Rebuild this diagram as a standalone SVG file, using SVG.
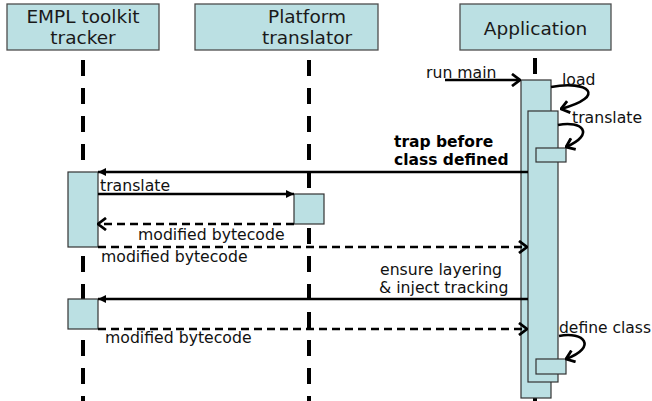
<svg xmlns="http://www.w3.org/2000/svg" width="652" height="401" viewBox="0 0 652 401">
  <style>
    .head { fill: #BBE0E3; stroke: #4d4d4d; stroke-width: 1.3; }
    .act { fill: #BBE0E3; stroke: #333; stroke-width: 1.2; }
    .life { stroke: #000; stroke-width: 4; stroke-dasharray: 16 12; fill: none; }
    .msg { stroke: #000; stroke-width: 2.6; fill: none; }
    .ret { stroke: #000; stroke-width: 2.6; fill: none; stroke-dasharray: 8 5; }
    .htxt { font-family: "DejaVu Sans", Verdana, sans-serif; font-size: 18.5px; fill: #1a1a1a; text-anchor: middle; }
    .lbl { font-family: "DejaVu Sans", Verdana, sans-serif; font-size: 15.7px; fill: #111; }
    .bold { font-family: "DejaVu Sans", Verdana, sans-serif; font-size: 15.5px; font-weight: bold; fill: #000; }
  </style>
  <defs>
    <marker id="open" viewBox="0 0 10 14" refX="9" refY="7" markerWidth="10" markerHeight="14" markerUnits="userSpaceOnUse" orient="auto">
      <path d="M1,1 L9,7 L1,13" fill="none" stroke="#000" stroke-width="2.8"/>
    </marker>
    <marker id="solid" viewBox="0 0 8 8" refX="8" refY="4" markerWidth="8" markerHeight="8" markerUnits="userSpaceOnUse" orient="auto">
      <path d="M0,0 L8,4 L0,8 z" fill="#000"/>
    </marker>
  </defs>

  <!-- lifelines -->
  <g id="lifelines">
    <line class="life" x1="83" y1="60" x2="83" y2="401"/>
    <line class="life" x1="309" y1="60" x2="309" y2="401"/>
    <line class="life" x1="535" y1="58" x2="535" y2="401"/>
  </g>

  <g id="tracker">
    <rect class="head" x="7" y="4" width="152" height="46"/>
    <text class="htxt" x="83" y="23">EMPL toolkit</text>
    <text class="htxt" x="83" y="44">tracker</text>
    <rect class="act" x="68" y="172" width="30" height="75"/>
    <rect class="act" x="68" y="299" width="30" height="30"/>
  </g>

  <g id="translator">
    <rect class="head" x="195" y="4" width="183" height="46"/>
    <text class="htxt" x="307" y="23">Platform</text>
    <text class="htxt" x="307" y="44">translator</text>
    <rect class="act" x="294" y="194" width="30" height="30"/>
  </g>

  <g id="application">
    <rect class="head" x="460" y="4" width="151" height="46"/>
    <text class="htxt" x="535.5" y="35">Application</text>
    <rect class="act" x="521" y="80" width="30" height="318"/>
    <rect class="act" x="528" y="111" width="30" height="271"/>
    <rect class="act" x="536" y="148" width="30" height="14"/>
    <rect class="act" x="536" y="359" width="30" height="15"/>
  </g>

  <!-- messages -->
  <g id="connectors">
    <line class="msg" x1="445" y1="80" x2="520" y2="80" marker-end="url(#open)"/>
    <path class="msg" d="M551,87 C588,80 608,96 561,109" marker-end="url(#open)"/>
    <path class="msg" d="M558,125 C582,120 596,134 566,147" marker-end="url(#open)"/>
    <line class="msg" x1="528" y1="172" x2="98" y2="172" marker-end="url(#solid)"/>
    <line class="msg" x1="98" y1="194" x2="294" y2="194" marker-end="url(#solid)"/>
    <line class="ret" x1="294" y1="224" x2="98" y2="224" marker-end="url(#open)"/>
    <line class="ret" x1="98" y1="247" x2="527" y2="247" marker-end="url(#open)"/>
    <line class="msg" x1="528" y1="299" x2="98" y2="299" marker-end="url(#solid)"/>
    <line class="ret" x1="98" y1="329" x2="527" y2="329" marker-end="url(#open)"/>
    <path class="msg" d="M559,336 C584,331 598,347 566,359" marker-end="url(#open)"/>
  </g>

  <g id="labels">
    <text class="lbl" x="426" y="78">run main</text>
    <text class="lbl" x="562" y="85">load</text>
    <text class="lbl" x="572" y="123">translate</text>
    <text class="bold" x="394" y="147">trap before</text>
    <text class="bold" x="394" y="165">class defined</text>
    <text class="lbl" x="100" y="191">translate</text>
    <text class="lbl" x="138" y="240">modified bytecode</text>
    <text class="lbl" x="101" y="262">modified bytecode</text>
    <text class="lbl" x="380" y="275">ensure layering</text>
    <text class="lbl" x="379" y="293">&amp; inject tracking</text>
    <text class="lbl" x="105" y="343">modified bytecode</text>
    <text class="lbl" x="559" y="333" textLength="92" lengthAdjust="spacingAndGlyphs">define class</text>
  </g>
</svg>
